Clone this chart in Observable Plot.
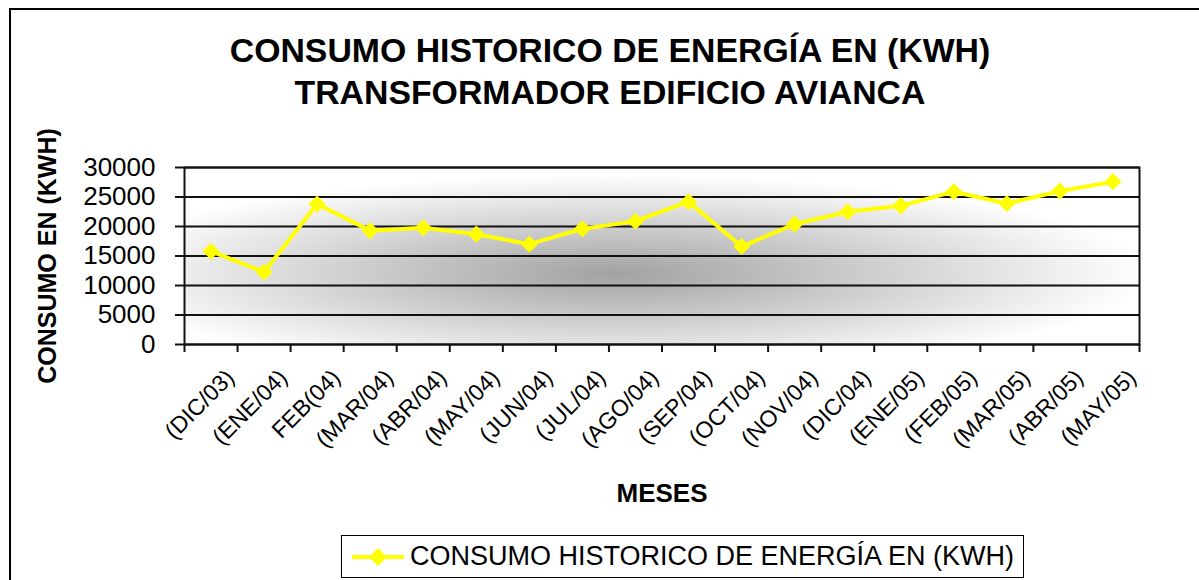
<!DOCTYPE html>
<html>
<head>
<meta charset="utf-8">
<script src="https://cdn.jsdelivr.net/npm/d3@7"></script>
<script src="https://cdn.jsdelivr.net/npm/@observablehq/plot@0.6"></script>
<style>
  html, body { margin: 0; padding: 0; background: #fff; width: 1199px; height: 580px; overflow: hidden; }
  body { position: relative; font-family: "Liberation Sans", Arial, sans-serif; }
  #frame { position: absolute; left: 9px; top: 8px; width: 1400px; height: 800px; border: 2px solid #000; box-sizing: border-box; }
  #title { position: absolute; left: 0; top: 29px; width: 1220px; text-align: center; font-weight: bold; font-size: 33.8px; line-height: 42px; color: #000; }
  #chart { position: absolute; left: 0; top: 120px; }
  #legend { position: absolute; left: 341px; top: 535px; width: 683px; height: 43px; border: 1.5px solid #000; box-sizing: border-box; background: #fff; display: flex; align-items: center; }
  #legend svg { display: block; margin-left: 10px; }
  #legend span { font-size: 27px; margin-left: 6px; color: #000; white-space: nowrap; }
</style>
</head>
<body>
<div id="frame"></div>
<div id="title">CONSUMO HISTORICO DE ENERGÍA EN (KWH)<br>TRANSFORMADOR EDIFICIO AVIANCA</div>
<div id="chart"></div>
<div id="legend"></div>
<script>
// ---- data ----
const meses = ["(DIC/03)", "(ENE/04)", "FEB(04)", "(MAR/04)", "(ABR/04)", "(MAY/04)", "(JUN/04)", "(JUL/04)", "(AGO/04)", "(SEP/04)", "(OCT/04)", "(NOV/04)", "(DIC/04)", "(ENE/05)", "(FEB/05)", "(MAR/05)", "(ABR/05)", "(MAY/05)"];
const consumo = [15800, 12300, 23800, 19300, 19800, 18700, 17000, 19600, 20900, 24200, 16600, 20400, 22500, 23500, 25900, 23900, 26000, 27600];
const yTicks = [0, 5000, 10000, 15000, 20000, 25000, 30000];
const serieNombre = "CONSUMO HISTORICO DE ENERGÍA EN (KWH)";
const yTitulo = "CONSUMO EN (KWH)";
const xTitulo = "MESES";

const data = meses.map((m, i) => ({mes: m, idx: i, kwh: consumo[i]}));
const xPos = d => d.idx + 0.5;
const YELLOW = "#FFFF00";

const defs = () => {
  const ns = "http://www.w3.org/2000/svg";
  const d = document.createElementNS(ns, "defs");
  const g = document.createElementNS(ns, "radialGradient");
  g.setAttribute("id", "bg");
  g.setAttribute("cx", "0.45");
  g.setAttribute("cy", "0.6");
  g.setAttribute("r", "0.56");
  [[0, "#a2a2a2"], [0.5, "#d0d0d0"], [1, "#ffffff"]].forEach(([o, c]) => {
    const s = document.createElementNS(ns, "stop");
    s.setAttribute("offset", o);
    s.setAttribute("stop-color", c);
    g.appendChild(s);
  });
  d.appendChild(g);
  return d;
};

const chart = Plot.plot({
  width: 1199,
  height: 410,
  marginLeft: 184,
  marginRight: 60,
  marginTop: 47,
  marginBottom: 186,
  style: {fontFamily: "'Liberation Sans', Arial, sans-serif", color: "#000", background: "transparent"},
  x: {type: "linear", domain: [0, meses.length], axis: null},
  y: {domain: [0, 30000], axis: null},
  marks: [
    defs,
    Plot.frame({fill: "url(#bg)", stroke: "none"}),
    Plot.gridY(yTicks, {stroke: "#111", strokeOpacity: 1, strokeWidth: 2}),
    Plot.frame({stroke: "#111", strokeWidth: 2}),
    Plot.axisY(yTicks, {anchor: "left", tickSize: 9, tickPadding: 20, fontSize: 26, stroke: "#111", strokeWidth: 2, tickFormat: d => String(d), label: null}),
    Plot.axisX(d3.range(0, meses.length + 1), {anchor: "bottom", tickSize: 8, stroke: "#111", strokeWidth: 2, tickFormat: () => "", label: null}),
    Plot.text(data, {x: xPos, text: "mes", frameAnchor: "bottom", rotate: -45, textAnchor: "end", lineAnchor: "top", dx: 13, dy: 23, fontSize: 23, fill: "#000"}),
    Plot.text([yTitulo], {frameAnchor: "left", textAnchor: "middle", dx: -137, rotate: -90, fontSize: 25, fontWeight: "bold", fill: "#000"}),
    Plot.text([xTitulo], {frameAnchor: "bottom", dy: 157, fontSize: 26, fontWeight: "bold", fill: "#000"}),
    Plot.line(data, {x: xPos, y: "kwh", stroke: YELLOW, strokeWidth: 4}),
    Plot.dot(data, {x: xPos, y: "kwh", symbol: "diamond2", r: 7.7, fill: YELLOW, stroke: "none"})
  ]
});
document.getElementById("chart").appendChild(chart);

// legend
const leg = document.getElementById("legend");
const ns = "http://www.w3.org/2000/svg";
const sw = document.createElementNS(ns, "svg");
sw.setAttribute("width", 52); sw.setAttribute("height", 24);
sw.innerHTML = `<line x1="0" y1="12" x2="52" y2="12" stroke="${YELLOW}" stroke-width="4"/><path d="M26,3 L35,12 L26,21 L17,12 Z" fill="${YELLOW}"/>`;
leg.appendChild(sw);
const sp = document.createElement("span");
sp.textContent = serieNombre;
leg.appendChild(sp);
</script>
</body>
</html>
